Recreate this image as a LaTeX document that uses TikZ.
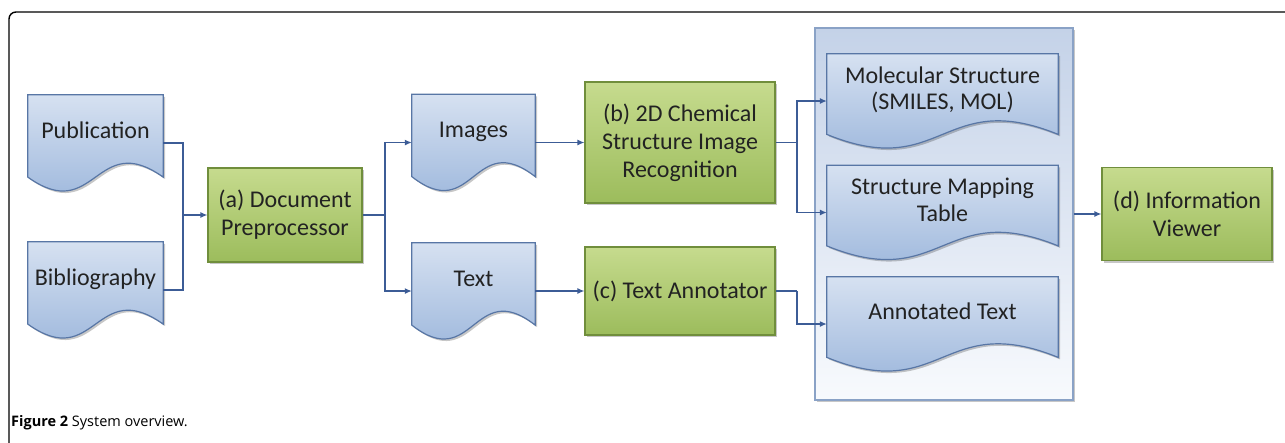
\documentclass[tikz,border=0pt]{standalone}
\usepackage{fontspec}
\setmainfont{Carlito}
\newfontfamily\capfont{Open Sans}
\usetikzlibrary{arrows.meta,calc,shadows}
\pgfdeclarelayer{background}
\pgfdeclarelayer{docs}
\pgfsetlayers{background,docs,main}
\definecolor{docTop}{RGB}{214,225,241}
\definecolor{docBot}{RGB}{146,175,216}
\definecolor{docLine}{RGB}{88,118,165}
\definecolor{grTop}{RGB}{198,219,142}
\definecolor{grBot}{RGB}{156,188,92}
\definecolor{grLine}{RGB}{112,142,60}
\definecolor{conTop}{RGB}{196,210,232}
\definecolor{conBot}{RGB}{248,250,253}
\definecolor{conLine}{RGB}{138,162,198}
\definecolor{arrowC}{RGB}{60,92,150}
\definecolor{textC}{RGB}{34,34,34}
\newcommand\uptext[1]{\raisebox{10pt}[\height][\depth]{\begin{tabular}{@{}c@{}}#1\end{tabular}}}
\newcommand\docshape[1]{%
  \path[docfill] (#1.north west) -- (#1.north east)
    -- ($(#1.north east)!0.854!(#1.south east)$)
    .. controls ($(#1.north)!0.354!(#1.south)$) and ($(#1.north)!1.354!(#1.south)$)
    .. ($(#1.north west)!0.854!(#1.south west)$) -- cycle;}
\tikzset{
  softshadow/.style={drop shadow={shadow xshift=2pt, shadow yshift=-2pt, opacity=0.22, fill=black}},
  docnode/.style={rectangle, inner sep=0pt, text=textC, font=\fontsize{24}{26.5}\selectfont},
  docfill/.style={draw=docLine, line width=1.2pt, top color=docTop, bottom color=docBot, softshadow},
  procbox/.style={rectangle, draw=grLine, line width=1.2pt, top color=grTop, bottom color=grBot,
    text=textC, align=center, font=\fontsize{24}{28}\selectfont, inner sep=2pt, softshadow},
  container/.style={rectangle, draw=conLine, line width=1.5pt, top color=conTop, bottom color=conBot, softshadow},
  flow/.style={draw=arrowC, line width=1.2pt},
  arr/.style={flow, -{Latex[length=7pt,width=6pt]}},
}
\begin{document}
\begin{tikzpicture}[x=1pt,y=-1pt]
\useasboundingbox (0,0) rectangle (1285,442);
% outer frame
\draw[line width=1.4pt, rounded corners=7pt] (9,450) -- (9,12) -- (1295,12);

% container
\begin{pgfonlayer}{background}
\node[container, minimum width=258, minimum height=372] (cont) at (944,214) {};
\end{pgfonlayer}

% document nodes
\node[docnode, minimum width=135, minimum height=96] (pub) at (95.5,143) {\uptext{Publication}};
\node[docnode, minimum width=135, minimum height=96] (bib) at (95.5,290) {\uptext{Bibliography}};
\node[docnode, minimum width=123, minimum height=96] (img) at (473.5,142.5) {\uptext{Images}};
\node[docnode, minimum width=123, minimum height=96] (txt) at (473.5,291) {\uptext{Text}};
\node[docnode, minimum width=231, minimum height=94] (mol) at (942.5,101) {\uptext{Molecular Structure\\(SMILES, MOL)}};
\node[docnode, minimum width=231, minimum height=94] (map) at (942.5,212.5) {\uptext{Structure Mapping\\Table}};
\node[docnode, minimum width=231, minimum height=94] (ann) at (942.5,324) {\uptext{Annotated Text}};

\begin{pgfonlayer}{docs}
\foreach \n in {pub,bib,img,txt,mol,map,ann}{\docshape{\n}}
\end{pgfonlayer}

% process boxes
\node[procbox, minimum width=154, minimum height=94] (pre) at (285,215) {(a) Document\\Preprocessor};
\node[procbox, minimum width=190, minimum height=121] (rec) at (680,142.5) {(b) 2D Chemical\\Structure Image\\Recognition};
\node[procbox, minimum width=190, minimum height=88] (ann2) at (680,291) {(c) Text Annotator};
\node[procbox, minimum width=170, minimum height=93] (view) at (1187,214) {(d) Information\\Viewer};

% connectors
\coordinate (jin) at (183,215);
\coordinate (jout) at (385,215);
\coordinate (jb) at (797,142.5);
\coordinate (jc) at (797,291);
\draw[flow] (pub.east) -| (jin);
\draw[flow] (bib.east) -| (jin);
\draw[arr] (jin) -- (pre.west);
\draw[flow] (pre.east) -- (jout);
\draw[arr] (jout) |- (img.west);
\draw[arr] (jout) |- (txt.west);
\draw[arr] (img.east) -- (rec.west);
\draw[arr] (txt.east) -- (ann2.west);
\draw[flow] (rec.east) -- (jb);
\draw[arr] (jb) |- (mol.west);
\draw[arr] (jb) |- (map.west);
\draw[flow] (ann2.east) -- (jc);
\draw[arr] (jc) |- (ann.west);
\draw[arr] (cont.east) -- (view.west);

% caption
\node[anchor=base west, inner sep=0pt, font=\capfont\fontsize{14.5}{17}\selectfont] (cap) at (11,426)
  {\textbf{Figure 2} System overview.};
\end{tikzpicture}
\end{document}
